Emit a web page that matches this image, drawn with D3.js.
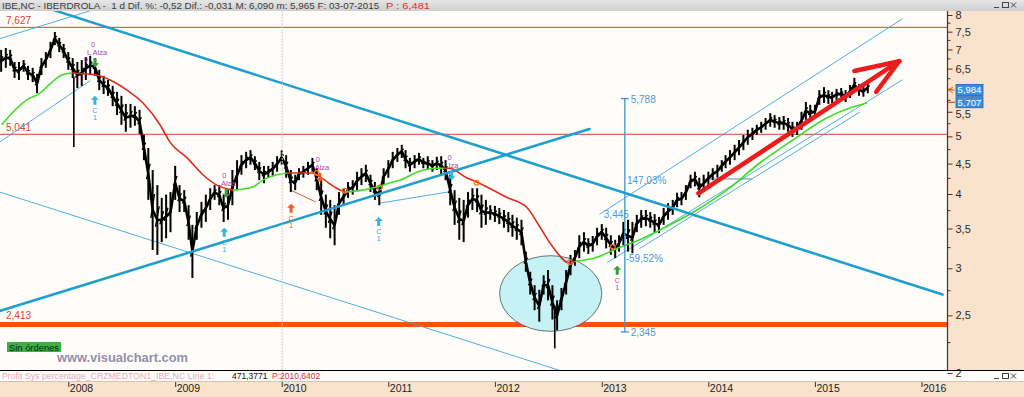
<!DOCTYPE html>
<html><head><meta charset="utf-8">
<script src="https://cdn.jsdelivr.net/npm/d3@7"></script>
<style>
body{margin:0;background:#fff;}
svg{display:block}
text{font-family:"Liberation Sans",Arial,sans-serif}
</style></head>
<body><svg id="c" width="1024" height="397"></svg>
<script>
// ---------------- DATA ----------------
const dates = [
"2007-05-16","2007-06-01","2007-06-16","2007-07-01","2007-07-16","2007-08-01","2007-08-16","2007-09-01","2007-09-16","2007-10-01","2007-10-16","2007-11-01","2007-11-16","2007-12-01","2007-12-16",
"2008-01-01","2008-01-16","2008-02-01","2008-02-16","2008-03-01","2008-03-16","2008-04-01","2008-04-16","2008-05-01","2008-05-16","2008-06-01","2008-06-16","2008-07-01","2008-07-16","2008-08-01","2008-08-16","2008-09-01","2008-09-16","2008-10-01","2008-10-16","2008-11-01","2008-11-16","2008-12-01","2008-12-16",
"2009-01-01","2009-01-16","2009-02-01","2009-02-16","2009-03-01","2009-03-16","2009-04-01","2009-04-16","2009-05-01","2009-05-16","2009-06-01","2009-06-16","2009-07-01","2009-07-16","2009-08-01","2009-08-16","2009-09-01","2009-09-16","2009-10-01","2009-10-16","2009-11-01","2009-11-16","2009-12-01","2009-12-16",
"2010-01-01","2010-01-16","2010-02-01","2010-02-16","2010-03-01","2010-03-16","2010-04-01","2010-04-16","2010-05-01","2010-05-16","2010-06-01","2010-06-16","2010-07-01","2010-07-16","2010-08-01","2010-08-16","2010-09-01","2010-09-16","2010-10-01","2010-10-16","2010-11-01","2010-11-16","2010-12-01","2010-12-16",
"2011-01-01","2011-01-16","2011-02-01","2011-02-16","2011-03-01","2011-03-16","2011-04-01","2011-04-16","2011-05-01","2011-05-16","2011-06-01","2011-06-16","2011-07-01","2011-07-16","2011-08-01","2011-08-16","2011-09-01","2011-09-16","2011-10-01","2011-10-16","2011-11-01","2011-11-16","2011-12-01","2011-12-16",
"2012-01-01","2012-01-16","2012-02-01","2012-02-16","2012-03-01","2012-03-16","2012-04-01","2012-04-16","2012-05-01","2012-05-16","2012-06-01","2012-06-16","2012-07-01","2012-07-16","2012-08-01","2012-08-16","2012-09-01","2012-09-16","2012-10-01","2012-10-16","2012-11-01","2012-11-16","2012-12-01","2012-12-16",
"2013-01-01","2013-01-16","2013-02-01","2013-02-16","2013-03-01","2013-03-16","2013-04-01","2013-04-16","2013-05-01","2013-05-16","2013-06-01","2013-06-16","2013-07-01","2013-07-16","2013-08-01","2013-08-16","2013-09-01","2013-09-16","2013-10-01","2013-10-16","2013-11-01","2013-11-16","2013-12-01","2013-12-16",
"2014-01-01","2014-01-16","2014-02-01","2014-02-16","2014-03-01","2014-03-16","2014-04-01","2014-04-16","2014-05-01","2014-05-16","2014-06-01","2014-06-16","2014-07-01","2014-07-16","2014-08-01","2014-08-16","2014-09-01","2014-09-16","2014-10-01","2014-10-16","2014-11-01","2014-11-16","2014-12-01","2014-12-16",
"2015-01-01","2015-01-16","2015-02-01","2015-02-16","2015-03-01","2015-03-16","2015-04-01","2015-04-16","2015-05-01","2015-05-16","2015-06-01","2015-06-16","2015-07-01"];

const highs = [
6.99,7.04,6.99,6.67,6.67,6.72,6.57,6.52,6.37,6.77,
6.93,7.21,7.49,7.32,7.15,6.93,6.77,6.67,6.72,6.80,
6.83,6.77,6.47,6.32,6.22,6.08,5.94,5.85,5.67,5.67,
5.62,5.54,5.03,4.78,4.39,4.14,3.94,3.99,4.03,4.46,
4.14,4.06,3.83,3.55,3.73,3.88,3.99,4.09,4.14,4.14,
3.99,4.06,4.39,4.56,4.65,4.71,4.74,4.63,4.53,4.46,
4.46,4.53,4.63,4.74,4.65,4.39,4.31,4.42,4.46,4.53,
4.60,4.42,4.22,3.99,3.91,3.83,4.03,4.09,4.19,4.22,
4.36,4.42,4.48,4.31,4.19,4.14,4.42,4.56,4.71,4.78,
4.84,4.74,4.60,4.65,4.69,4.60,4.63,4.56,4.62,4.63,
4.56,4.31,4.06,3.94,3.91,4.03,4.09,4.09,3.99,3.91,
3.83,3.82,3.79,3.76,3.73,3.69,3.65,3.62,3.20,2.96,
2.81,2.76,2.92,2.98,2.81,2.65,2.78,2.98,3.16,3.22,
3.41,3.45,3.37,3.40,3.51,3.56,3.51,3.41,3.35,3.41,
3.59,3.62,3.59,3.69,3.76,3.76,3.73,3.70,3.66,3.79,
3.86,3.91,4.02,4.03,4.14,4.31,4.36,4.26,4.31,4.36,
4.42,4.48,4.56,4.65,4.74,4.84,4.93,5.03,5.13,5.17,
5.23,5.29,5.37,5.47,5.43,5.39,5.41,5.37,5.29,5.29,
5.50,5.71,5.65,5.65,5.98,6.05,5.98,5.94,6.01,6.03,
5.98,6.10,6.27,6.12,6.08,6.17];

const lows = [
6.42,6.52,6.57,6.27,6.22,6.42,6.22,6.17,5.91,6.34,
6.52,6.77,7.12,6.93,6.77,6.47,6.27,6.03,6.08,6.22,
6.34,6.32,5.98,5.89,5.85,5.62,5.43,5.23,5.09,5.17,
5.21,5.05,4.56,3.91,3.22,3.16,3.32,3.37,3.45,3.91,
3.73,3.73,3.35,2.89,3.35,3.51,3.59,3.76,3.91,3.83,
3.59,3.62,3.83,4.06,4.31,4.42,4.48,4.39,4.22,4.17,
4.26,4.29,4.36,4.48,4.26,4.03,4.06,4.22,4.26,4.31,
4.36,4.06,3.69,3.51,3.37,3.28,3.69,3.83,3.94,3.99,
4.06,4.14,4.19,4.03,3.91,3.83,4.14,4.26,4.42,4.53,
4.60,4.42,4.36,4.42,4.48,4.42,4.39,4.36,4.39,4.31,
4.22,3.83,3.55,3.35,3.32,3.65,3.76,3.73,3.51,3.55,
3.62,3.59,3.56,3.51,3.45,3.39,3.35,3.28,2.96,2.71,
2.55,2.44,2.71,2.65,2.46,2.36,2.55,2.71,2.92,3.03,
3.12,3.20,3.17,3.20,3.28,3.35,3.24,3.16,3.12,3.20,
3.28,3.20,3.18,3.45,3.51,3.53,3.51,3.45,3.44,3.55,
3.62,3.69,3.80,3.83,3.91,4.09,4.12,3.95,4.03,4.14,
4.22,4.26,4.36,4.42,4.48,4.56,4.65,4.74,4.84,4.93,
5.03,5.07,5.13,5.19,5.17,5.13,5.13,5.09,4.99,5.03,
5.13,5.33,5.29,5.37,5.65,5.69,5.67,5.69,5.76,5.76,
5.71,5.80,5.94,5.85,5.83,5.91];

// single-day wicks
const spikeDates = ["2008-01-20","2012-07-24"];
const spikeHighs = [6.30, 2.60];
const spikeLows  = [4.80, 2.20];

// moving average (g = price above, r = price below)
const maDates = ["2007-05-18","2007-06-25","2007-08-12","2007-09-26","2007-11-06","2007-12-10","2008-01-13","2008-02-27","2008-04-08","2008-05-23","2008-07-20","2008-09-13","2008-11-10","2008-12-14","2009-02-11","2009-04-06","2009-05-24","2009-07-18","2009-09-24","2009-10-28","2009-12-15","2010-01-19","2010-03-04","2010-04-17","2010-05-28","2010-07-08","2010-08-05","2010-10-05","2010-11-22","2011-01-16","2011-02-09","2011-04-17","2011-06-15","2011-07-12","2011-07-29","2011-09-26","2011-11-09","2012-02-10","2012-04-19","2012-06-03","2012-07-17","2012-09-14","2012-10-01","2012-12-15","2013-02-22","2013-05-11","2013-07-19","2013-11-23","2014-01-16","2014-03-05","2014-06-26","2014-10-17","2015-02-10","2015-05-10","2015-06-28"];
const maValues = [5.23,5.49,5.76,5.91,6.17,6.34,6.39,6.37,6.34,6.22,5.98,5.69,5.23,4.89,4.60,4.31,4.14,4.06,4.11,4.22,4.31,4.34,4.34,4.34,4.22,4.09,4.03,4.06,4.11,4.19,4.22,4.37,4.42,4.42,4.42,4.26,4.17,3.95,3.80,3.52,3.26,3.06,3.08,3.13,3.24,3.35,3.48,3.76,3.91,4.06,4.51,4.93,5.37,5.60,5.69];
const maState = ["g","g","g","g","g","g","r","r","r","r","r","r","r","r","r","r","r","g","g","g","g","r","r","r","r","r","g","g","g","g","g","g","g","r","r","r","r","r","r","r","r","r","g","g","g","g","g","g","g","g","g","g","g","g","g"];

// axis ticks
const yMajorTicks = [2,2.5,3,3.5,4,4.5,5,5.5,6.5,7,7.5,8];
const yMinorTicks = [2.25,2.75,3.25,3.75,4.25,4.75,5.25,5.75,6,6.25,6.75,7.25,7.75];
const yearTicks = ["2008","2009","2010","2011","2012","2013","2014","2015","2016"];

// horizontal levels
const resistanceLevels = [7.627, 5.041];
const resistanceLabels = ["7,627", "5,041"];
const supportLevel = 2.413;
const supportLabel = "2,413";

// drawn trend lines [date1, price1, date2, price2]
const thickTrendLines = [
  ["2007-11-09", 8.16, "2016-03-13", 2.71],
  ["2007-05-11", 2.543, "2012-11-20", 5.145]
];
const thinTrendLines = [
  ["2007-05-11", 7.30, "2008-03-26", 8.16],
  ["2007-05-11", 4.89, "2008-03-15", 6.20],
  ["2007-05-11", 4.03, "2012-08-10", 2.02],
  ["2010-12-02", 3.86, "2011-07-23", 4.03],
  ["2012-12-25", 3.70, "2015-10-27", 7.88],
  ["2013-01-21", 3.07, "2015-10-27", 6.22],
  ["2013-05-11", 3.24, "2015-06-03", 5.49]
];
const greyLines = [["2013-12-18", 4.24, "2014-05-28", 4.24]];
const brownLines = [["2010-02-01", 4.06, "2010-04-27", 3.88]];
const arrowLines = [
  ["2013-11-28", 4.01, "2015-10-17", 6.69],
  ["2015-05-16", 6.44, "2015-10-17", 6.69],
  ["2015-07-30", 5.94, "2015-10-17", 6.69]
];
const ellipseBox = ["2012-01-17", "2013-01-01", 2.35, 3.15];
const measure = {date: "2013-03-21", top: 5.788, bottom: 2.345};
const measureTexts = [
  ["5,788", "2013-04-10", 5.788],
  ["147,03%", "2013-03-28", 4.22],
  ["3,445", "2013-01-08", 3.70],
  ["-59,52%", "2013-03-24", 3.12],
  ["2,345", "2013-04-10", 2.345]
];
// signal arrows: [date, price(tip), kind]
const upSignals = [
  ["2008-04-01", 5.85, "cyan"],
  ["2009-06-18", 3.51, "cyan"],
  ["2010-02-02", 3.85, "orange"],
  ["2010-11-29", 3.66, "cyan"],
  ["2013-02-23", 3.03, "green"]
];
const alzaSignals = [
  ["2008-03-26", 7.14, "L Alza", "green", "0"],
  ["2009-06-18", 4.31, "Alza", "green", ""],
  ["2010-05-05", 4.58, "Alza", "orange", ""],
  ["2011-07-30", 4.61, "lza", "cyan", ""]
];
const maMarks = [
  ["2010-05-01", 4.34],["2010-08-05", 4.05],["2010-12-02", 4.10],
  ["2011-10-30", 4.18],["2012-09-14", 3.07],["2013-02-08", 3.26]
];
const lastPrices = [5.984, 5.707];
const lastLabels = ["5,984", "5,707"];
const titleMain = "IBE,NC - IBERDROLA -  1 d Dif. %: -0,52 Dif.: -0,031 M: 6,090 m: 5,965 F: 03-07-2015 ";
const titleRed = "P : 6,481";

// ---------------- DRAW ----------------
const parse = d3.timeParse("%Y-%m-%d");
const svg = d3.select("#c");
const W = 1024, H = 397;
const PL = {x0: 0, x1: 947, y0: 11, y1: 370};

const x = d3.scaleTime().domain([new Date(2008,0,1), new Date(2016,0,1)]).range([68.3, 921.5]);
const y = d3.scaleLog().domain([2, 8]).range([373, 15]);
const comma = v => String(v).replace(".", ",");

const defs = svg.append("defs");
defs.append("clipPath").attr("id","pc").append("rect")
  .attr("x",PL.x0).attr("y",PL.y0).attr("width",PL.x1-PL.x0).attr("height",PL.y1-PL.y0);
const tg = defs.append("linearGradient").attr("id","tb").attr("x1",0).attr("y1",0).attr("x2",0).attr("y2",1);
tg.append("stop").attr("offset",0).attr("stop-color","#e6e6e6");
tg.append("stop").attr("offset",1).attr("stop-color","#cfcfcf");

// backgrounds
svg.append("rect").attr("width",W).attr("height",H).attr("fill","#fffdfa");
svg.append("rect").attr("x",PL.x1).attr("y",PL.y0).attr("width",W-PL.x1).attr("height",PL.y1-PL.y0).attr("fill","#f9e3cd");
svg.append("rect").attr("x",0).attr("y",370).attr("width",W).attr("height",11).attr("fill","#fdfcfa");
svg.append("rect").attr("x",0).attr("y",381).attr("width",W).attr("height",16).attr("fill","#f9e3cd");
svg.append("line").attr("x1",0).attr("x2",W).attr("y1",381.5).attr("y2",381.5).attr("stroke","#d9c3ad");
svg.append("rect").attr("x",0).attr("y",0).attr("width",W).attr("height",11).attr("fill","url(#tb)");

// title
svg.append("text").attr("x",2).attr("y",8.6).attr("font-size",9).attr("fill","#3a3a3a")
  .attr("textLength",380).attr("lengthAdjust","spacingAndGlyphs").attr("xml:space","preserve").text(titleMain);
svg.append("text").attr("x",386).attr("y",8.6).attr("font-size",9).attr("fill","#e03030")
  .attr("textLength",44).attr("lengthAdjust","spacingAndGlyphs").text(titleRed);

// window icons
function winIcons(y0){
  const g = svg.append("g").attr("stroke","#444").attr("fill","none").attr("stroke-width",1);
  g.append("line").attr("x1",994).attr("x2",999).attr("y1",y0+6.5).attr("y2",y0+6.5);
  g.append("rect").attr("x",1002.5).attr("y",y0+1.5).attr("width",6).attr("height",5);
  g.append("line").attr("x1",1011).attr("x2",1016).attr("y1",y0+1.5).attr("y2",y0+6.5);
  g.append("line").attr("x1",1016).attr("x2",1011).attr("y1",y0+1.5).attr("y2",y0+6.5);
}
winIcons(1); winIcons(372);

const P = svg.append("g").attr("clip-path","url(#pc)");

// 2010 cursor line
svg.append("line").attr("x1",x(parse("2010-01-01"))+0.5).attr("x2",x(parse("2010-01-01"))+0.5)
  .attr("y1",PL.y0).attr("y2",381).attr("stroke","#cfcfcf").attr("stroke-dasharray","2,1");

// horizontal levels
resistanceLevels.forEach((v,i)=>{
  P.append("line").attr("x1",0).attr("x2",PL.x1).attr("y1",y(v)).attr("y2",y(v))
    .attr("stroke","#d9402e").attr("stroke-width",1);
  P.append("text").attr("x",6).attr("y",y(v)-3).attr("font-size",10).attr("fill","#d9402e").text(resistanceLabels[i]);
});
P.append("line").attr("x1",0).attr("x2",PL.x1).attr("y1",y(supportLevel)).attr("y2",y(supportLevel))
  .attr("stroke","#ff4f10").attr("stroke-width",5);
P.append("text").attr("x",6).attr("y",y(supportLevel)-6).attr("font-size",10).attr("fill","#d9402e").text(supportLabel);

// ellipse
{
  const ex1 = x(parse(ellipseBox[0])), ex2 = x(parse(ellipseBox[1]));
  const ey1 = y(ellipseBox[3]), ey2 = y(ellipseBox[2]);
  P.append("ellipse").attr("cx",(ex1+ex2)/2).attr("cy",(ey1+ey2)/2)
    .attr("rx",(ex2-ex1)/2).attr("ry",(ey2-ey1)/2)
    .attr("fill","#c6f1f5").attr("stroke","#3f5a44").attr("stroke-width",0.8);
}

// thin lines
const seg = (g, arr, color, w) => arr.forEach(l=>{
  g.append("line").attr("x1",x(parse(l[0]))).attr("y1",y(l[1]))
   .attr("x2",x(parse(l[2]))).attr("y2",y(l[3]))
   .attr("stroke",color).attr("stroke-width",w).attr("stroke-linecap","round");
});
seg(P, thinTrendLines, "#3aa6d8", 0.9);
seg(P, greyLines, "#5a7f9a", 0.9);
seg(P, brownLines, "#c0503a", 0.9);

// price: mid trace + high/low bars
const pts = dates.map((d,i)=>({date: parse(d), hi: highs[i], lo: lows[i]}));
P.append("path").datum(pts)
  .attr("d", d3.line().x(d=>x(d.date)).y(d=>(y(d.hi)+y(d.lo))/2))
  .attr("fill","none").attr("stroke","#000").attr("stroke-width",2.6).attr("stroke-linejoin","round");
P.selectAll("line.bar").data(pts).enter().append("line").attr("class","bar")
  .attr("x1",d=>x(d.date)).attr("x2",d=>x(d.date)).attr("y1",d=>y(d.hi)).attr("y2",d=>y(d.lo))
  .attr("stroke","#000").attr("stroke-width",2);
P.selectAll("line.bar2").data(pts).enter().append("line").attr("class","bar2")
  .attr("x1",d=>x(d.date)-1.8).attr("x2",d=>x(d.date)+1.8)
  .attr("y1",d=>y(d.hi)+0.6*(y(d.lo)-y(d.hi))).attr("y2",d=>y(d.hi)+0.3*(y(d.lo)-y(d.hi)))
  .attr("stroke","#000").attr("stroke-width",1.4);
spikeDates.forEach((d,i)=>{
  P.append("line").attr("x1",x(parse(d))).attr("x2",x(parse(d)))
    .attr("y1",y(spikeHighs[i])).attr("y2",y(spikeLows[i])).attr("stroke","#000").attr("stroke-width",1.6);
});

// moving average
{
  const mpts = maDates.map((d,i)=>({date: parse(d), v: maValues[i], s: maState[i]}));
  const runs = [];
  let cur = null;
  for (let i=0;i<mpts.length-1;i++){
    if (!cur || cur.s !== mpts[i].s){ cur = {s: mpts[i].s, pts:[mpts[i]]}; runs.push(cur); }
    cur.pts.push(mpts[i+1]);
  }
  const ml = d3.line().x(d=>x(d.date)).y(d=>y(d.v)).curve(d3.curveMonotoneX);
  runs.forEach(r=>{
    P.append("path").attr("d", ml(r.pts)).attr("fill","none")
      .attr("stroke", r.s==="g" ? "#3fdc2a" : "#e02a1c").attr("stroke-width",1.6);
  });
}

// thick blue lines
seg(P, thickTrendLines, "#1f9fcd", 2.6);

// MA marks
maMarks.forEach(m=>{
  P.append("circle").attr("cx",x(parse(m[0]))).attr("cy",y(m[1])).attr("r",2.4)
    .attr("fill","none").attr("stroke","#f07a20").attr("stroke-width",1.2);
});

// measurement line
{
  const mx = x(parse(measure.date));
  const g = P.append("g").attr("stroke","#3b93d2").attr("stroke-width",1.3);
  g.append("line").attr("x1",mx).attr("x2",mx).attr("y1",y(measure.top)).attr("y2",y(measure.bottom));
  g.append("line").attr("x1",mx-4).attr("x2",mx+4).attr("y1",y(measure.top)).attr("y2",y(measure.top));
  g.append("line").attr("x1",mx-4).attr("x2",mx+4).attr("y1",y(measure.bottom)).attr("y2",y(measure.bottom));
  measureTexts.forEach(t=>{
    P.append("text").attr("x",x(parse(t[1]))).attr("y",y(t[2])+4).attr("font-size",10)
      .attr("fill","#4a9ad6").text(t[0]);
  });
}

// red arrow
seg(P, arrowLines, "#ea1c1c", 4.5);

// signals
const sigColor = {cyan:"#33b6e6", orange:"#f05a24", green:"#3c9c3c"};
const sigText = {cyan:"#33a6d6", orange:"#e05a34", green:"#c040c0"};
function arrowPath(cx, ty, dir){
  const s = dir;
  return `M${cx},${ty} L${cx-4},${ty+4*s} L${cx-1.5},${ty+4*s} L${cx-1.5},${ty+9*s} L${cx+1.5},${ty+9*s} L${cx+1.5},${ty+4*s} L${cx+4},${ty+4*s} Z`;
}
upSignals.forEach(s=>{
  const cx = x(parse(s[0])), ty = y(s[1]);
  P.append("path").attr("d", arrowPath(cx, ty, 1)).attr("fill", sigColor[s[2]]);
  P.append("text").attr("x",cx).attr("y",ty+17).attr("text-anchor","middle").attr("font-size",7).attr("fill",sigText[s[2]]).text("C");
  P.append("text").attr("x",cx).attr("y",ty+24).attr("text-anchor","middle").attr("font-size",7).attr("fill",sigText[s[2]]).text("1");
});
alzaSignals.forEach(s=>{
  const cx = x(parse(s[0])), ty = y(s[1]);
  P.append("text").attr("x",cx).attr("y",ty+3).attr("text-anchor","middle").attr("font-size",7.5).attr("fill","#a64aa6").text("0");
  P.append("text").attr("x",cx+4).attr("y",ty+11).attr("text-anchor","middle").attr("font-size",7.5).attr("fill","#a64aa6").text(s[2]);
  if (s[4]) P.append("text").attr("x",cx-7).attr("y",ty+18).attr("text-anchor","middle").attr("font-size",7.5).attr("fill","#a64aa6").text(s[4]);
  P.append("path").attr("d", arrowPath(cx+2, ty+23, -1)).attr("fill", sigColor[s[3]]);
});

// right axis
svg.append("line").attr("x1",PL.x1+0.5).attr("x2",PL.x1+0.5).attr("y1",PL.y0).attr("y2",PL.y1)
  .attr("stroke","#5c2a1a").attr("stroke-width",1.2);
const ax = svg.append("g").attr("transform",`translate(${PL.x1+0.5},0)`)
  .call(d3.axisRight(y).tickValues(yMajorTicks).tickSize(5).tickPadding(3).tickFormat(comma));
ax.select(".domain").remove();
ax.selectAll("line").attr("stroke","#5c2a1a");
ax.selectAll("text").attr("font-size",11).attr("fill","#2a2a2a").attr("font-family","'Liberation Sans',Arial,sans-serif");
ax.selectAll(".tick").filter(d=>d===5.5).select("text").attr("dy","0.55em");
svg.append("g").selectAll("line").data(yMinorTicks).enter().append("line")
  .attr("x1",PL.x1+0.5).attr("x2",d=>d===6?PL.x1+5.5:PL.x1+3.5).attr("y1",d=>y(d)).attr("y2",d=>y(d))
  .attr("stroke","#5c2a1a");

// last price boxes
lastPrices.forEach((v,i)=>{
  const cy = y(v);
  svg.append("rect").attr("x",956).attr("y",cy-5.5).attr("width",27).attr("height",11)
    .attr("fill","#3a8fe2").attr("stroke","#1f5fae").attr("stroke-width",0.8);
  svg.append("text").attr("x",969.5).attr("y",cy+3.5).attr("text-anchor","middle").attr("font-size",9.5)
    .attr("fill","#fff").text(lastLabels[i]);
});
svg.append("path").attr("d",`M${PL.x1+1},${y(lastPrices[0])} l5,-3 M${PL.x1+1},${y(lastPrices[0])} l5,3 M${PL.x1+1},${y(lastPrices[0])} l7,0`)
  .attr("stroke","#e07020").attr("fill","none");
svg.append("path").attr("d",`M${PL.x1+1},${y(lastPrices[1])} l7,0`).attr("stroke","#c03030");

// bottom separator
svg.append("line").attr("x1",0).attr("x2",W).attr("y1",370.5).attr("y2",370.5).attr("stroke","#000").attr("stroke-width",1.2);

// x axis
const xa = svg.append("g").attr("transform","translate(0,381)")
  .call(d3.axisBottom(x).tickValues(yearTicks.map(t=>new Date(+t,0,1))).tickSize(6).tickFormat(d3.timeFormat("%Y")));
xa.select(".domain").remove();
xa.selectAll("line").attr("stroke","#333").attr("y1",1);
xa.selectAll("text").attr("text-anchor","start").attr("x",1).attr("y",4).attr("font-size",10.5)
  .attr("fill","#222").attr("font-family","'Liberation Sans',Arial,sans-serif");

// Sin órdenes
svg.append("rect").attr("x",7).attr("y",342).attr("width",54).attr("height",10).attr("fill","#3caf45");
svg.append("text").attr("x",9).attr("y",350.5).attr("font-size",8.5).attr("fill","#0c2a0c")
  .attr("textLength",50).attr("lengthAdjust","spacingAndGlyphs").text("Sin órdenes");

// watermark
svg.append("text").attr("x",57).attr("y",362).attr("font-size",13).attr("font-weight","bold")
  .attr("fill","#8f8fab").attr("textLength",131).attr("lengthAdjust","spacingAndGlyphs").text("www.visualchart.com");

// profit system line
svg.append("text").attr("x",2).attr("y",379).attr("font-size",8.5).attr("fill","#eaa9bb")
  .attr("textLength",212).attr("lengthAdjust","spacingAndGlyphs").text("Profit Sys percentage_CRZMEDTON1_IBE,NC Line 1:");
svg.append("text").attr("x",232).attr("y",379).attr("font-size",8.5).attr("fill","#111").text("471,3771");
svg.append("text").attr("x",272).attr("y",379).attr("font-size",8.5).attr("fill","#d83040").text("P:2010,6402");
</script>
</body></html>
